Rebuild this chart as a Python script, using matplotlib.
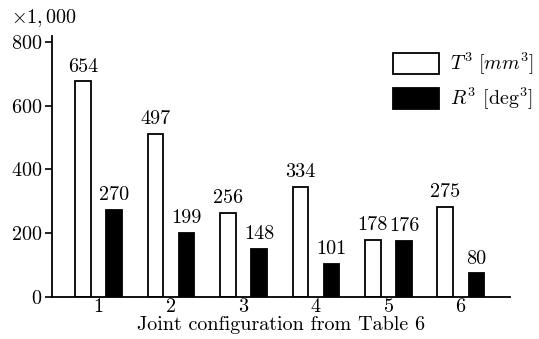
import matplotlib.pyplot as plt

plt.rcParams['font.family'] = 'serif'
plt.rcParams['font.serif'] = ['cmr10', 'DejaVu Serif']
plt.rcParams['mathtext.fontset'] = 'cm'
plt.rcParams['axes.formatter.use_mathtext'] = True

configs = [1, 2, 3, 4, 5, 6]
# bar heights as drawn in the figure (x1,000)
t_heights = [677, 513, 264, 345, 178, 282]
r_heights = [274, 201, 151, 103, 176, 73]
# numbers printed above the bars
t_labels = ["654", "497", "256", "334", "178", "275"]
r_labels = ["270", "199", "148", "101", "176", "80"]

fs = 14.5

fig = plt.figure(figsize=(5.39, 3.39), dpi=100)
ax = fig.add_axes([0.0965, 0.125, 0.85, 0.769])

w = 0.215
xt = [c - w for c in configs]
xr = [c + w for c in configs]
ax.bar(xt, t_heights, width=w, color="white", edgecolor="black",
       linewidth=1.3, label=r"$T^3\ [mm^3]$")
ax.bar(xr, r_heights, width=w, color="black", edgecolor="black",
       linewidth=1.3, label=r"$R^3$ [deg$^3$]")

for x, h, s in zip(xt, t_heights, t_labels):
    ax.annotate(s, (x, h), xytext=(0, 4), textcoords="offset points",
                ha="center", va="bottom", fontsize=fs)
for x, h, s in zip(xr, r_heights, r_labels):
    ax.annotate(s, (x, h), xytext=(0, 4), textcoords="offset points",
                ha="center", va="bottom", fontsize=fs)

ax.set_xlim(0.36, 6.68)
ax.set_ylim(0, 820)
ax.set_yticks([0, 200, 400, 600, 800])
ax.set_xticks(configs)
ax.tick_params(axis="x", length=0, labelsize=fs, pad=1)
ax.tick_params(axis="y", length=5, width=1.2, labelsize=fs, pad=2)
ax.spines["top"].set_visible(False)
ax.spines["right"].set_visible(False)
ax.spines["left"].set_linewidth(1.3)
ax.spines["bottom"].set_linewidth(1.3)
ax.set_xlabel("Joint configuration from Table 6", fontsize=fs, labelpad=0)

fig.text(0.02, 0.915, r"$\times 1,000$", fontsize=fs, ha="left", va="bottom")

ax.legend(loc="upper right", bbox_to_anchor=(1.013, 0.886),
          bbox_transform=fig.transFigure, frameon=False, fontsize=fs,
          handlelength=2.3, handleheight=1.25, labelspacing=0.45,
          handletextpad=0.55, borderaxespad=0.2)

fig.savefig("out.png", dpi=100)
